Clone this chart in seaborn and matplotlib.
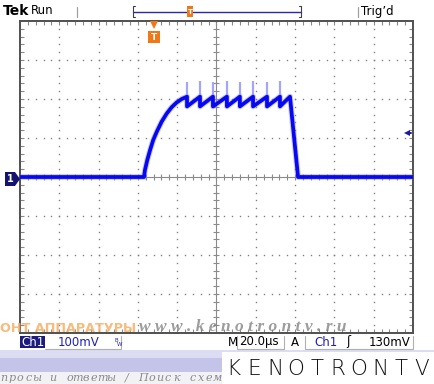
import numpy as np
import pandas as pd
import matplotlib
matplotlib.use("Agg")
import matplotlib.pyplot as plt
from matplotlib.patches import Rectangle, Polygon
from matplotlib.lines import Line2D
import seaborn as sns

time_us = [-100, -36.9, -36.4, -35.2, -33.8, -32.2, -30.4, -27.9, -25.3, -22.8,
           -20.3, -17.7, -15.0,
           -15.0, -8.4, -8.4, -1.8, -1.8, 5.3, 5.3, 11.9, 11.9,
           18.6, 18.6, 25.7, 25.7, 32.3, 32.3, 37.4, 41.5, 100]
volt_mV = [0, 0, 18, 44, 69, 95, 116, 142, 163, 179,
           191, 200, 206,
           181, 206, 181, 206, 181, 206, 181, 206, 181,
           206, 181, 206, 181, 206, 181, 206, 0, 0]
spike_t = [-15.0, -8.4, -1.8, 5.3, 11.9, 18.6, 25.7, 32.3]
spike_low = [181, 181, 181, 181, 181, 181, 181, 181]
spike_top = [244, 247, 244, 247, 244, 247, 244, 247]

trig_level_mV = 113
trig_pos_us = -31.8

status_left = ["Ch1", "100mV"]
status_right = ["M", "20.0µs", "A", "Ch1", "\u0283", "130mV"]

W, H = 435, 384
sns.set_theme(style="white")
plt.rcParams["font.family"] = ["DejaVu Sans"]

fig = plt.figure(figsize=(W / 100, H / 100), dpi=100)
fig.patch.set_facecolor("white")

def fx(x):
    return x / W

def fy(y):
    return 1 - y / H

# background bands at bottom
fig.patches.append(Rectangle((0, fy(358)), 1, fy(350) - fy(358), transform=fig.transFigure,
                             facecolor="#dcdcf2", edgecolor="none", zorder=0))
fig.patches.append(Rectangle((0, fy(372)), 1, fy(358) - fy(372), transform=fig.transFigure,
                             facecolor="#c4c4e8", edgecolor="none", zorder=0))
fig.patches.append(Rectangle((0, 0), 1, fy(372), transform=fig.transFigure,
                             facecolor="#f2f2f6", edgecolor="none", zorder=0))

# ---------------- graticule ----------------
ax = fig.add_axes([fx(20), fy(333), (413 - 20) / W, (333 - 21) / H])
ax.set_xlim(-100, 100)
ax.set_ylim(-400, 400)
ax.set_facecolor("white")

major_x = np.arange(-80, 81, 20)
major_y = np.arange(-300, 301, 100)
minor_x = np.arange(-100, 101, 4)
minor_y = np.arange(-400, 401, 20)

gx, gy = np.meshgrid(major_x[major_x != 0], minor_y)
ax.plot(gx.ravel(), gy.ravel(), linestyle="none", marker="s", ms=1.0, color="#808080", mew=0)
gx, gy = np.meshgrid(minor_x, major_y[major_y != 0])
ax.plot(gx.ravel(), gy.ravel(), linestyle="none", marker="s", ms=1.0, color="#808080", mew=0)

ax.axhline(0, color="#8a8a8a", lw=0.8, zorder=1)
ax.axvline(0, color="#8a8a8a", lw=0.8, zorder=1)
ax.plot(minor_x, np.zeros_like(minor_x), linestyle="none", marker="|", ms=5, mew=0.8, color="#8a8a8a")
ax.plot(np.zeros_like(minor_y), minor_y, linestyle="none", marker="_", ms=5, mew=0.8, color="#8a8a8a")

ax.set_xticks(minor_x[1:-1])
ax.set_yticks(minor_y[1:-1])
ax.tick_params(which="both", direction="in", length=3, width=0.8, color="#8a8a8a",
               top=True, right=True, bottom=True, left=True,
               labelbottom=False, labelleft=False)
for s in ax.spines.values():
    s.set_color("#505050")
    s.set_linewidth(1.4)

# ---------------- trace ----------------
df = pd.DataFrame({"t": time_us, "v": volt_mV})
sns.lineplot(data=df, x="t", y="v", ax=ax, sort=False, estimator=None,
             color="#7c7cff", lw=4.2, alpha=0.4, zorder=4)
ax.vlines(spike_t, spike_low, spike_top, color="#a4a4ff", lw=1.6, zorder=4)
sns.lineplot(data=df, x="t", y="v", ax=ax, sort=False, estimator=None,
             color="#0808f0", lw=2.7, zorder=5)
ax.set_xlabel("")
ax.set_ylabel("")

# trigger level arrow (right)
ax.plot([97.0], [trig_level_mV], marker="<", ms=5, color="#1a1aa0", mew=0, zorder=6, clip_on=False)
ax.plot([97.0, 99.0], [trig_level_mV, trig_level_mV], color="#1a1aa0", lw=1.4, zorder=6)

# trigger position marker (top, orange)
ax.plot([trig_pos_us], [391], marker="v", ms=6, color="#f07818", mew=0, zorder=6, clip_on=False)
ax.plot([trig_pos_us], [358], marker="s", ms=8, color="#f07818", mew=0, zorder=6, clip_on=False)
ax.text(trig_pos_us, 357, "T", color="white", fontsize=6.5, fontweight="bold",
        ha="center", va="center", zorder=7)

# channel 1 ground marker (left)
fig.patches.append(Polygon([(fx(5), fy(172)), (fx(15), fy(172)), (fx(20), fy(179)),
                            (fx(15), fy(186)), (fx(5), fy(186))], closed=True,
                           transform=fig.transFigure, facecolor="#141470", edgecolor="none", zorder=5))
fig.text(fx(10.5), fy(179), "1", color="white", fontsize=7, fontweight="bold",
         ha="center", va="center", zorder=6)

# ---------------- top bar ----------------
fig.text(fx(3), fy(11), "Tek", fontsize=10, fontweight="bold", color="black", va="center", ha="left")
fig.text(fx(31), fy(11), "Run", fontsize=8.5, color="black", va="center", ha="left")
fig.text(fx(361), fy(11), "Trig\u2019d", fontsize=8.5, color="black", va="center", ha="left")
for xs in (77, 358):
    fig.add_artist(Line2D([fx(xs), fx(xs)], [fy(7), fy(17)], color="#a0a0a0", lw=0.9))
fig.add_artist(Line2D([fx(133), fx(301)], [fy(12), fy(12)], color="#2828a8", lw=1.0))
for xs, d in ((133, 2), (301, -2)):
    fig.add_artist(Line2D([fx(xs + d), fx(xs), fx(xs), fx(xs + d)],
                          [fy(6), fy(6), fy(17), fy(17)], color="#404040", lw=0.8))
fig.patches.append(Rectangle((fx(187), fy(17)), 6 / W, 11 / H, transform=fig.transFigure,
                             facecolor="#f07818", edgecolor="none", zorder=5))
fig.text(fx(190), fy(12), "T", color="white", fontsize=5, fontweight="bold",
         ha="center", va="center", zorder=6)

# ---------------- watermarks ----------------
fig.text(fx(0), fy(328), "ОНТ АППАРАТУРЫ", fontsize=9.2, fontweight="bold",
         color="#f6b068", alpha=0.85, ha="left", va="center", zorder=8)
fig.text(fx(243), fy(327), "w w w . k e n o t r o n t v . r u", fontsize=12.5,
         family="Liberation Serif", style="italic", fontweight="bold",
         color="#7c7c7c", alpha=0.75, ha="center", va="center", zorder=8)

# ---------------- status bar ----------------
fig.patches.append(Rectangle((fx(20), fy(348)), 25 / W, 12 / H, transform=fig.transFigure,
                             facecolor="#1c1c80", edgecolor="none", zorder=5))
fig.text(fx(32.5), fy(342), status_left[0], color="white", fontsize=8.5,
         ha="center", va="center", zorder=6)
fig.text(fx(58), fy(342), status_left[1], color="#2020b8", fontsize=8.5,
         ha="left", va="center", zorder=6)
fig.text(fx(115), fy(340), "B", color="#2020b8", fontsize=4, ha="left", va="center")
fig.text(fx(117), fy(344), "W", color="#2020b8", fontsize=4, ha="left", va="center")
fig.add_artist(Line2D([fx(45), fx(121), fx(121)], [fy(349), fy(349), fy(336)], color="#b0b0b0", lw=0.8))
fig.add_artist(Line2D([fx(237), fx(237), fx(284), fx(284)], [fy(336), fy(349), fy(349), fy(336)],
                      color="#b0b0b0", lw=0.8))
fig.add_artist(Line2D([fx(305), fx(305), fx(413), fx(413)], [fy(336), fy(349), fy(349), fy(336)],
                      color="#b0b0b0", lw=0.8))
fig.text(fx(228), fy(342), status_right[0], color="black", fontsize=8.5, ha="left", va="center")
fig.text(fx(239), fy(342), status_right[1], color="black", fontsize=8.5, ha="left", va="center")
fig.text(fx(291), fy(342), status_right[2], color="black", fontsize=8.5, ha="left", va="center")
fig.text(fx(314), fy(342), status_right[3], color="#2020b8", fontsize=8.5, ha="left", va="center")
fig.text(fx(346), fy(342), status_right[4], color="black", fontsize=8.5, ha="left", va="center")
fig.text(fx(410), fy(342), status_right[5], color="black", fontsize=8.5, ha="right", va="center")

# bottom watermark text (letter-spaced, left part cut by the screen edge, right part hidden by logo)
wm = "просы и ответы / Поиск схем"
for i, ch in enumerate(wm):
    xc = 4 + i * 8.2
    if ch != " " and xc < 218:
        fig.text(fx(xc), fy(378), ch, fontsize=8, family="DejaVu Serif", style="italic",
                 color="#8a8a8a", ha="center", va="center", zorder=3)

# KENOTRONTV logo
fig.patches.append(Rectangle((fx(222), 0), (W - 222) / W, fy(352), transform=fig.transFigure,
                             facecolor="white", edgecolor="none", zorder=9))
logo = "KENOTRONTV"
for i, ch in enumerate(logo):
    fig.text(fx(233 + i * 21.0), fy(369), ch, fontsize=15.5, family="DejaVu Sans",
             fontweight="light", color="#111111", ha="center", va="center", zorder=10)

fig.savefig("out.png", dpi=100, facecolor=fig.get_facecolor())
